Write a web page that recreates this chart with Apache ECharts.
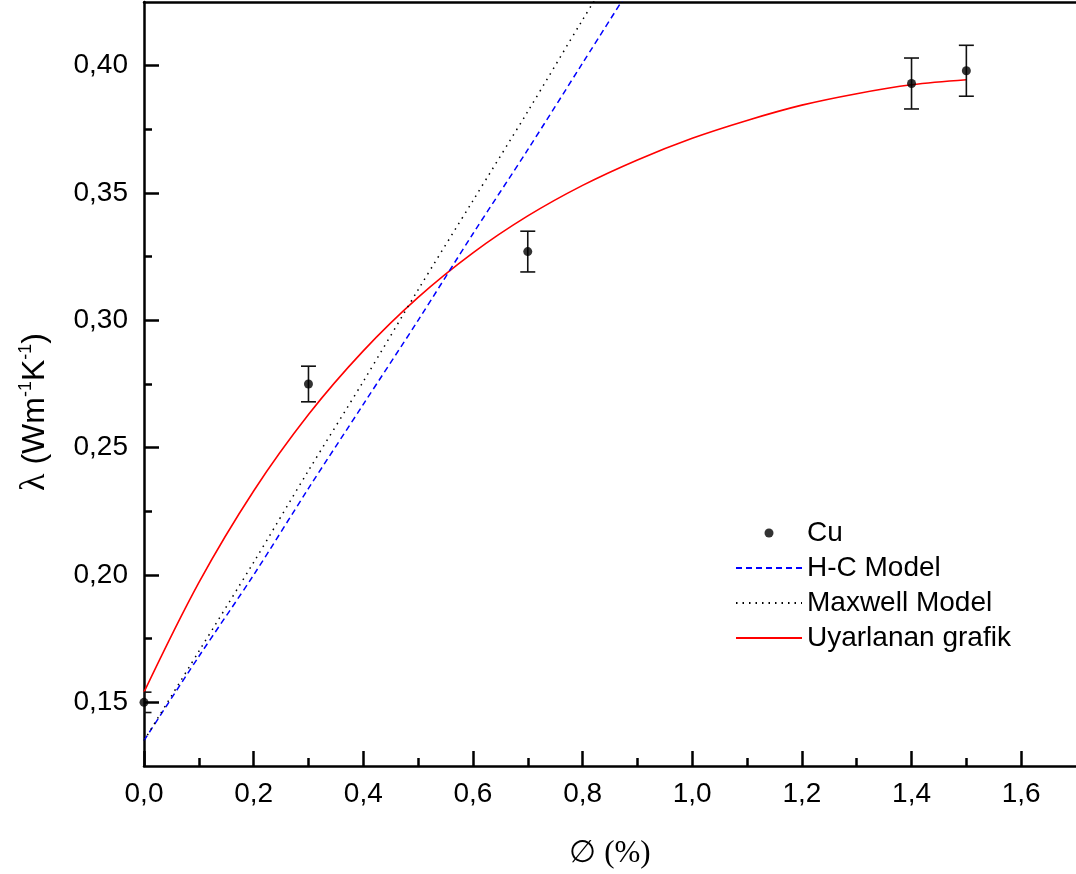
<!DOCTYPE html>
<html>
<head>
<meta charset="utf-8">
<title>Cu - lambda</title>
<script src="https://cdn.jsdelivr.net/npm/echarts@6/dist/echarts.min.js"></script>
<style>
  html, body { margin: 0; padding: 0; background: #fff; }
  #main { width: 1076px; height: 874px; }
</style>
</head>
<body>
<div id="main"></div>
<script>
// Cu olcum noktalari + hata cubuklari
const cuX = [0, 0.3, 0.7, 1.4, 1.5];
const cuY = [0.150, 0.275, 0.327, 0.393, 0.398];
const cuErr = [0.004, 0.007, 0.008, 0.010, 0.010];

// H-C ve Maxwell model egrileri
const modelX = [0, 0.1, 0.2, 0.3, 0.4, 0.5, 0.6, 0.7, 0.8, 0.9];
const hcY = [0.135, 0.168, 0.200, 0.234, 0.267, 0.300, 0.334, 0.367, 0.401, 0.435];
const maxwellY = [0.135, 0.170, 0.205, 0.241, 0.276, 0.312, 0.347, 0.382, 0.418, 0.453];

// uyarlanan grafik (kirmizi)
const fitX = [0, 0.1, 0.2, 0.3, 0.4, 0.5, 0.6, 0.7, 0.8, 0.9, 1.0, 1.1, 1.2, 1.3, 1.4, 1.5];
const fitY = [0.154, 0.197, 0.233, 0.263, 0.288, 0.309, 0.3265, 0.341, 0.353, 0.363, 0.3715, 0.3785, 0.3845, 0.389, 0.3925, 0.3945];

// eksen tikleri
const xMajorTicks = [0, 0.2, 0.4, 0.6, 0.8, 1.0, 1.2, 1.4, 1.6];
const xMinorTicks = [0.1, 0.3, 0.5, 0.7, 0.9, 1.1, 1.3, 1.5];
const yMajorTicks = [0.15, 0.20, 0.25, 0.30, 0.35, 0.40];
const yMinorTicks = [0.175, 0.225, 0.275, 0.325, 0.375];

const chart = echarts.init(document.getElementById('main'));

function pairs(xs, ys) {
  return xs.map((x, i) => [x, ys[i]]);
}

const labelFont = { fontFamily: 'Liberation Sans', fontSize: 28, color: '#000' };

const option = {
  animation: false,
  backgroundColor: '#fff',
  grid: { left: 144, top: 2, width: 934, height: 764 },
  legend: {
    left: 735,
    top: 519,
    orient: 'vertical',
    itemWidth: 66,
    itemHeight: 9,
    itemGap: 7,
    padding: 0,
    textStyle: { fontFamily: 'Liberation Sans', fontSize: 28, color: '#000' },
    data: [
      { name: 'Cu', icon: 'circle' },
      { name: 'H-C Model', itemStyle: { opacity: 0 } },
      { name: 'Maxwell Model', itemStyle: { opacity: 0 } },
      { name: 'Uyarlanan grafik', itemStyle: { opacity: 0 } }
    ]
  },
  xAxis: [
    {
      type: 'value', min: 0, max: 1.7, position: 'bottom',
      name: '\u2205 (%)', nameLocation: 'middle', nameGap: 72,
      nameTextStyle: { fontFamily: 'Liberation Serif', fontSize: 31, color: '#000' },
      axisLine: { lineStyle: { color: '#000', width: 2.5 } },
      axisTick: { inside: true, length: 15, customValues: xMajorTicks, lineStyle: { color: '#000', width: 2.5 } },
      axisLabel: Object.assign({ margin: 14, customValues: xMajorTicks,
        formatter: v => v.toFixed(1).replace('.', ',') }, labelFont),
      splitLine: { show: false }
    },
    {
      // kucuk tikler
      type: 'value', min: 0, max: 1.7, position: 'bottom',
      axisLine: { show: false },
      axisTick: { inside: true, length: 8, customValues: xMinorTicks, lineStyle: { color: '#000', width: 2.5 } },
      axisLabel: { show: false },
      splitLine: { show: false }
    },
    {
      // ust cerceve
      type: 'value', min: 0, max: 1.7, position: 'top',
      axisLine: { lineStyle: { color: '#000', width: 2.5 } },
      axisTick: { show: false },
      axisLabel: { show: false },
      splitLine: { show: false }
    }
  ],
  yAxis: [
    {
      type: 'value', min: 0.125, max: 0.425, position: 'left',
      axisLine: { lineStyle: { color: '#000', width: 2.5 } },
      axisTick: { inside: true, length: 15, customValues: yMajorTicks, lineStyle: { color: '#000', width: 2.5 } },
      axisLabel: Object.assign({ margin: 16, customValues: yMajorTicks,
        formatter: v => v.toFixed(2).replace('.', ',') }, labelFont),
      splitLine: { show: false }
    },
    {
      type: 'value', min: 0.125, max: 0.425, position: 'left',
      axisLine: { show: false },
      axisTick: { inside: true, length: 8, customValues: yMinorTicks, lineStyle: { color: '#000', width: 2.5 } },
      axisLabel: { show: false },
      splitLine: { show: false }
    }
  ],
  graphic: [
    {
      type: 'text',
      x: 35, y: 412,
      rotation: Math.PI / 2,
      style: {
        text: '{l|\u03bb} (Wm{s|-1}K{s|-1})',
        fontFamily: 'Liberation Sans',
        fontSize: 32,
        fill: '#000',
        align: 'center',
        verticalAlign: 'middle',
        rich: {
          l: { fontFamily: 'Liberation Serif', fontSize: 36 },
          s: { fontFamily: 'Liberation Sans', fontSize: 18, verticalAlign: 'top' }
        }
      }
    }
  ],
  series: [
    {
      name: 'Uyarlanan grafik',
      type: 'line',
      data: pairs(fitX, fitY),
      smooth: 0.35,
      symbol: 'none',
      lineStyle: { color: '#ff0000', width: 1.6 },
      itemStyle: { color: '#ff0000' },
      z: 3
    },
    {
      name: 'H-C Model',
      type: 'line',
      data: pairs(modelX, hcY),
      smooth: 0.3,
      symbol: 'none',
      lineStyle: { color: '#0000ff', width: 1.5, type: [6, 4] },
      itemStyle: { color: '#0000ff' },
      z: 3
    },
    {
      name: 'Maxwell Model',
      type: 'line',
      data: pairs(modelX, maxwellY),
      smooth: 0.3,
      symbol: 'none',
      lineStyle: { color: '#000', width: 1.5, type: [1.5, 5] },
      itemStyle: { color: '#000' },
      z: 3
    },
    {
      name: 'hata',
      type: 'custom',
      clip: true,
      data: cuX.map((x, i) => [x, cuY[i], cuErr[i]]),
      encode: { x: 0, y: 1 },
      renderItem: function (params, api) {
        const x = api.value(0);
        const y = api.value(1);
        const e = api.value(2);
        const top = api.coord([x, y + e]);
        const bot = api.coord([x, y - e]);
        const half = 7.5;
        const st = { stroke: '#111', lineWidth: 1.6 };
        return {
          type: 'group',
          children: [
            { type: 'line', shape: { x1: top[0], y1: top[1], x2: bot[0], y2: bot[1] }, style: st },
            { type: 'line', shape: { x1: top[0] - half, y1: top[1], x2: top[0] + half, y2: top[1] }, style: st },
            { type: 'line', shape: { x1: bot[0] - half, y1: bot[1], x2: bot[0] + half, y2: bot[1] }, style: st }
          ]
        };
      },
      z: 4
    },
    {
      name: 'Cu',
      type: 'scatter',
      data: pairs(cuX, cuY),
      symbol: 'circle',
      symbolSize: 9,
      itemStyle: { color: '#000' },
      z: 5
    }
  ]
};

chart.setOption(option);
</script>
</body>
</html>
